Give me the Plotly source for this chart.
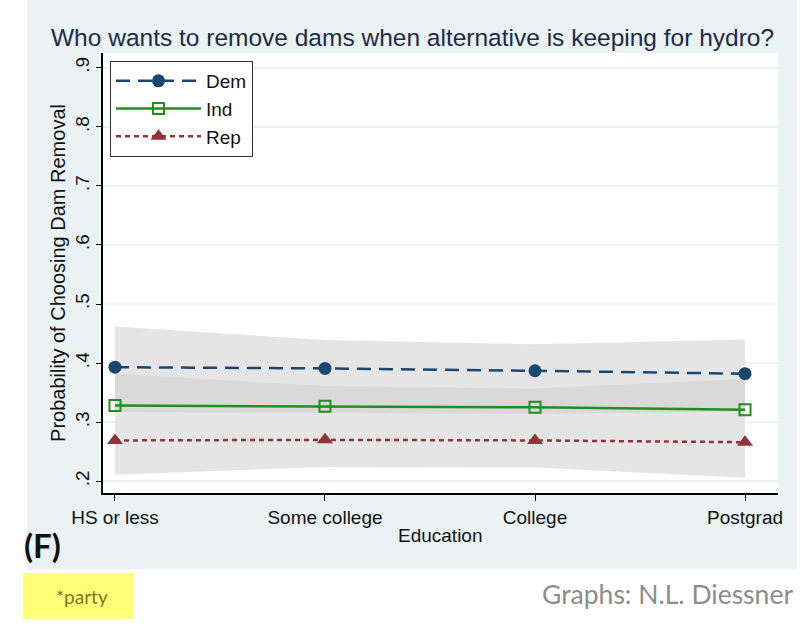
import plotly.graph_objects as go

# data
education = ["HS or less", "Some college", "College", "Postgrad"]
xpos = [1, 2, 3, 4]

dem = [0.393, 0.391, 0.387, 0.382]
ind = [0.328, 0.327, 0.325, 0.321]
rep = [0.269, 0.270, 0.269, 0.266]

dem_hi = [0.462, 0.439, 0.432, 0.440]
dem_lo = [0.325, 0.343, 0.342, 0.324]
ind_hi = [0.382, 0.361, 0.357, 0.373]
ind_lo = [0.275, 0.290, 0.290, 0.270]
rep_hi = [0.317, 0.315, 0.314, 0.317]
rep_lo = [0.211, 0.224, 0.223, 0.206]

yticks = [0.2, 0.3, 0.4, 0.5, 0.6, 0.7, 0.8, 0.9]
ytick_text = [".2", ".3", ".4", ".5", ".6", ".7", ".8", ".9"]

NAVY = "#1A476F"
GREEN = "#1F8F1F"
MAROON = "#90353B"
STATA_BG = "#EAF2F3"
FONT = "Liberation Sans, Arial, sans-serif"

W, H = 807, 625
L, R, T, B = 103, 29, 53, 132
pw, ph = W - L - R, H - T - B


def px(x):
    return (x - L) / pw


def py(y):
    return (H - B - y) / ph


fig = go.Figure()

# CI bands (opaque, drawn in Stata order)
for hi, lo, col in [(dem_hi, dem_lo, "#E5E5E5"), (ind_hi, ind_lo, "#D9D9D9"), (rep_hi, rep_lo, "#E5E5E5")]:
    fig.add_trace(go.Scatter(
        x=xpos + xpos[::-1], y=hi + lo[::-1],
        fill="toself", fillcolor=col, mode="lines",
        line=dict(width=0, color=col), showlegend=False, hoverinfo="skip"
    ))

fig.add_trace(go.Scatter(
    x=xpos, y=dem, mode="lines+markers", name="Dem", legendgroup="d",
    line=dict(color=NAVY, width=2.5, dash="14px,8px"),
    marker=dict(symbol="circle", size=13, color=NAVY)
))
fig.add_trace(go.Scatter(
    x=xpos, y=ind, mode="lines+markers", name="Ind", legendgroup="i",
    line=dict(color=GREEN, width=2.5),
    marker=dict(symbol="square-open", size=11, color=GREEN, line=dict(width=2))
))
fig.add_trace(go.Scatter(
    x=xpos, y=rep, mode="lines+markers", name="Rep", legendgroup="r",
    line=dict(color=MAROON, width=2.5, dash="5px,4px"),
    marker=dict(symbol="triangle-up", size=14, color=MAROON)
))

shapes = [
    # Stata graph region
    dict(type="rect", xref="paper", yref="paper", layer="below",
         x0=px(27), x1=px(797), y0=py(569), y1=py(0),
         fillcolor=STATA_BG, line=dict(width=0)),
    # white plot region
    dict(type="rect", xref="paper", yref="paper", layer="below",
         x0=0, x1=1, y0=0, y1=1, fillcolor="white", line=dict(width=0)),
    # yellow highlight
    dict(type="rect", xref="paper", yref="paper", layer="below",
         x0=px(23), x1=px(133), y0=py(619), y1=py(573),
         fillcolor="#FFFF78", line=dict(width=0)),
]

annotations = [
    dict(text="Who wants to remove dams when alternative is keeping for hydro?",
         x=px(412), y=py(38), xref="paper", yref="paper", showarrow=False,
         xanchor="center", yanchor="middle", font=dict(family=FONT, size=24.5, color="#1E2A4A")),
    dict(text="Education", x=0.5, y=py(535), xref="paper", yref="paper", showarrow=False,
         xanchor="center", yanchor="middle", font=dict(family=FONT, size=19, color="#111")),
    dict(text="<b>(F)</b>", x=px(42), y=py(545), xref="paper", yref="paper", showarrow=False,
         xanchor="center", yanchor="middle", font=dict(family="Lato", size=33, color="#111")),
    dict(text="*party", x=px(82), y=py(596), xref="paper", yref="paper", showarrow=False,
         xanchor="center", yanchor="middle", font=dict(family="Lato", size=19, color="#7A7A22")),
    dict(text="Graphs: N.L. Diessner", x=px(795), y=py(594), xref="paper", yref="paper", showarrow=False,
         xanchor="right", yanchor="middle", font=dict(family="Lato", size=26.5, color="#8C8C8C")),
]

fig.update_layout(
    width=W, height=H,
    margin=dict(l=L, r=R, t=T, b=B),
    paper_bgcolor="white", plot_bgcolor="white",
    font=dict(family=FONT, size=19, color="#111"),
    shapes=shapes, annotations=annotations,
    showlegend=True,
    legend=dict(
        x=px(110), y=py(61), xanchor="left", yanchor="top",
        bgcolor="white", bordercolor="#333", borderwidth=1,
        font=dict(family=FONT, size=19, color="#111"),
        itemwidth=85, tracegroupgap=0, traceorder="grouped"
    ),
    xaxis=dict(
        range=[0.943, 4.157], tickvals=xpos, ticktext=education,
        showgrid=False, zeroline=False,
        showline=True, linecolor="black", linewidth=1.5,
        ticks="outside", ticklen=6, tickcolor="black",
        tickfont=dict(size=19)
    ),
    yaxis=dict(
        range=[0.18, 0.925], tickvals=yticks, ticktext=ytick_text,
        tickangle=-90,
        showgrid=True, gridcolor=STATA_BG, gridwidth=2, zeroline=False,
        showline=True, linecolor="black", linewidth=1.5,
        ticks="outside", ticklen=5, tickcolor="black",
        tickfont=dict(size=19),
        title=dict(text="Probability of Choosing Dam Removal", font=dict(size=20), standoff=1)
    ),
)

# drop the page's default 8px body margin so the figure sits at the window origin
fig.write_html("out.html", config={"displayModeBar": False},
               post_script="document.body.style.margin='0';")
